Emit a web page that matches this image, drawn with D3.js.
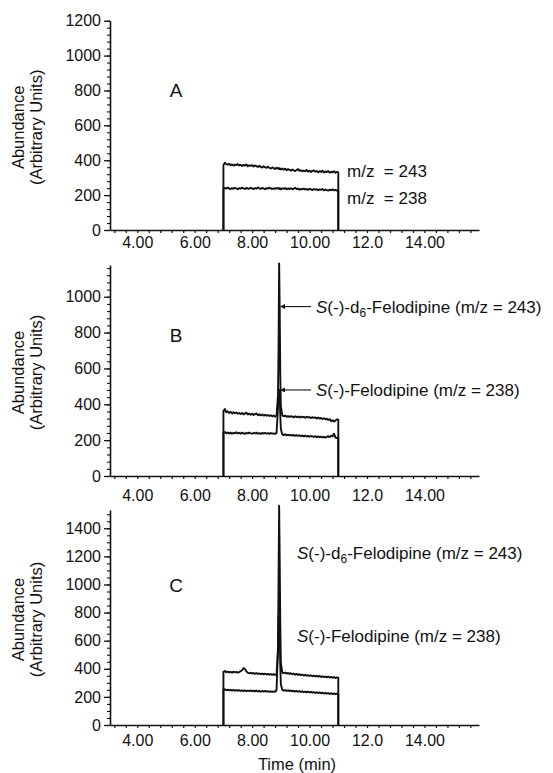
<!DOCTYPE html>
<html>
<head>
<meta charset="utf-8">
<script src="https://cdn.jsdelivr.net/npm/d3@7"></script>
<style>
  html, body { margin: 0; padding: 0; background: #fff; }
  svg { display: block; font-family: "Liberation Sans", Arial, Helvetica, sans-serif; }
  text { fill: #111; }
</style>
</head>
<body>
<svg id="chart" width="553" height="773"></svg>
<script>
// Scan times (min) shared by all selected-ion traces; the first and last entries
// mark the valve switching in/out where the signal steps from/to zero.
const times = [
  7.00, 7.00, 7.05, 7.10, 7.15, 7.20, 7.25, 7.30, 7.35, 7.40,
  7.45, 7.50, 7.55, 7.60, 7.65, 7.70, 7.75, 7.80, 7.85, 7.90,
  7.95, 8.00, 8.05, 8.10, 8.15, 8.20, 8.25, 8.30, 8.35, 8.40,
  8.45, 8.50, 8.55, 8.60, 8.65, 8.70, 8.75, 8.80, 8.85, 8.90,
  8.92, 8.94, 8.96, 8.98,
  9.00,
  9.05, 9.10, 9.15, 9.20, 9.25,
  9.30, 9.35, 9.40, 9.45, 9.50, 9.55, 9.60, 9.65, 9.70, 9.75,
  9.80, 9.85, 9.90, 9.95, 10.00, 10.05, 10.10, 10.15, 10.20, 10.25,
  10.30, 10.35, 10.40, 10.45, 10.50, 10.55, 10.60, 10.65, 10.70, 10.75,
  10.80, 10.85, 10.90, 10.95, 11.00, 11.00
];

// Panel A: blank plasma, m/z 243 and m/z 238
const blank243 = [
  0, 372, 386, 378, 374, 380, 371, 376, 369, 375,
  372, 378, 370, 374, 367, 373, 369, 376, 365, 371,
  368, 372, 364, 370, 366, 361, 368, 362, 358, 365,
  360, 356, 363, 357, 352, 359, 355, 350, 357, 352,
  355, 349, 354, 351,
  347,
  353, 346, 351, 343, 349,
  345, 340, 347, 342, 338, 344, 350, 339, 343, 336,
  341, 337, 344, 335, 340, 333, 339, 342, 334, 338,
  331, 337, 333, 340, 330, 336, 332, 338, 329, 334,
  331, 337, 328, 333, 330, 0
];
const blank238 = [
  0, 236, 241, 237, 243, 238, 235, 240, 236, 242,
  238, 234, 240, 237, 243, 239, 235, 241, 238, 236,
  242, 238, 235, 240, 237, 244, 239, 236, 241, 238,
  234, 240, 237, 243, 238, 235, 239, 236, 241, 237,
  239, 235, 240, 237,
  233,
  239, 236, 241, 234, 238,
  235, 240, 233, 237, 242, 234, 238, 231, 236, 233,
  238, 232, 235, 230, 236, 233, 229, 235, 231, 234,
  228, 233, 230, 235, 227, 232, 229, 226, 231, 228,
  233, 227, 230, 226, 229, 0
];

// Panel B
const sampleB243 = [
  0, 362, 374, 355, 361, 352, 358, 349, 356, 350,
  354, 347, 352, 346, 351, 344, 349, 353, 343, 348,
  342, 347, 340, 345, 349, 339, 344, 338, 343, 337,
  342, 336, 340, 335, 339, 333, 337, 331, 336, 450,
  720, 1185, 930, 560,
  390,
  338, 333, 337, 330, 335,
  329, 334, 331, 327, 333, 328, 332, 326, 331, 327,
  330, 325, 331, 326, 329, 323, 328, 324, 327, 321,
  326, 320, 324, 318, 322, 316, 320, 312, 317, 306,
  311, 304, 309, 316, 314, 0
];
const sampleB238 = [
  0, 240, 246, 238, 243, 237, 242, 236, 241, 238,
  244, 237, 241, 236, 242, 238, 235, 241, 237, 243,
  238, 236, 241, 237, 242, 236, 239, 235, 240, 237,
  241, 236, 239, 235, 240, 236, 238, 235, 240, 380,
  455, 482, 440, 340,
  262,
  232, 228, 233, 227, 231,
  226, 230, 225, 229, 224, 228, 223, 227, 222, 226,
  221, 225, 220, 224, 219, 223, 221, 218, 222, 217,
  221, 216, 220, 215, 219, 214, 218, 222, 217, 225,
  221, 236, 214, 212, 215, 0
];

// Panel C
const sampleC243 = [
  0, 378, 384, 375, 381, 374, 379, 372, 380, 375,
  378, 372, 377, 383, 390, 406, 398, 381, 371, 368,
  372, 366, 370, 364, 369, 363, 367, 361, 366, 360,
  365, 359, 364, 358, 363, 357, 362, 356, 360, 520,
  1050, 1560, 1180, 720,
  440,
  372, 368, 374, 366, 370,
  364, 369, 361, 366, 358, 364, 356, 362, 354, 359,
  352, 357, 350, 355, 349, 353, 347, 352, 345, 350,
  344, 349, 342, 347, 341, 345, 339, 344, 338, 342,
  336, 341, 334, 339, 336, 0
];
const sampleC238 = [
  0, 250, 255, 247, 252, 246, 251, 245, 250, 244,
  249, 243, 248, 242, 247, 241, 246, 240, 245, 241,
  246, 240, 244, 239, 245, 238, 243, 237, 242, 238,
  243, 237, 241, 236, 240, 235, 239, 236, 250, 560,
  780, 760, 640, 420,
  290,
  250, 244, 249, 242, 247,
  241, 246, 239, 244, 238, 243, 236, 241, 235, 240,
  233, 238, 232, 237, 231, 236, 230, 234, 228, 233,
  227, 232, 226, 230, 224, 229, 223, 227, 221, 226,
  220, 225, 219, 223, 220, 0
];

// Axis ticks and labels
const xTickValues = [4, 6, 8, 10, 12, 14];
const xTickLabels = ["4.00", "6.00", "8.00", "10.00", "12.0", "14.00"];
const yTicksA = [0, 200, 400, 600, 800, 1000, 1200];
const yTicksB = [0, 200, 400, 600, 800, 1000];
const yTicksC = [0, 200, 400, 600, 800, 1000, 1200, 1400];
const yMaxA = 1200, yMaxB = 1177, yMaxC = 1530;
const xDomain = [3.05, 15.9];
const panelLetters = ["A", "B", "C"];
const ionLabels = ["m/z  = 243", "m/z  = 238"];

const svg = d3.select("#chart");
const FONT = 16;

const x = d3.scaleLinear().domain(xDomain).range([110, 479]);

const panels = [
  { letter: panelLetters[0], yMax: yMaxA, ticks: yTicksA, minor: 40, top: 20.7, bottom: 230,
    series: [blank243, blank238], labelDy: 19, letterY: 90 },
  { letter: panelLetters[1], yMax: yMaxB, ticks: yTicksB, minor: 40, top: 265, bottom: 476,
    series: [sampleB243, sampleB238], labelDy: 26, letterY: 335 },
  { letter: panelLetters[2], yMax: yMaxC, ticks: yTicksC, minor: 50, top: 510, bottom: 725,
    series: [sampleC243, sampleC238], labelDy: 22, letterY: 585 }
];

panels.forEach((p, i) => {
  const y = d3.scaleLinear().domain([0, p.yMax]).range([p.bottom, p.top]);
  p.y = y;
  const g = svg.append("g");

  // minor y ticks
  const yMinor = d3.range(0, p.yMax + 0.1, p.minor);
  g.append("g")
    .attr("transform", "translate(110,0)")
    .call(d3.axisLeft(y).tickValues(yMinor).tickSize(3).tickFormat("").tickSizeOuter(0))
    .call(a => a.select(".domain").remove())
    .call(a => a.selectAll("line").attr("stroke", "#111").attr("stroke-width", 1.1));

  // major y ticks + labels + axis line
  g.append("g")
    .attr("transform", "translate(110,0)")
    .call(d3.axisLeft(y).tickValues(p.ticks).tickSize(6).tickPadding(3).tickSizeOuter(0)
      .tickFormat(d3.format("d")))
    .call(a => a.select(".domain").attr("stroke", "#111").attr("stroke-width", 1.6))
    .call(a => a.selectAll("line").attr("stroke", "#111").attr("stroke-width", 1.3))
    .call(a => a.selectAll("text").attr("font-size", FONT).attr("fill", "#111")
      .attr("font-family", null));

  // x axis: small ticks every 0.4 min, labels at even minutes
  const xMinor = d3.range(3.2, 15.7, 0.4);
  g.append("g")
    .attr("transform", `translate(0,${p.bottom})`)
    .call(d3.axisBottom(x).tickValues(xMinor).tickSize(3).tickFormat("").tickSizeOuter(0))
    .call(a => a.select(".domain").attr("stroke", "#111").attr("stroke-width", 1.6))
    .call(a => a.selectAll("line").attr("stroke", "#111").attr("stroke-width", 1.2));

  g.append("g")
    .attr("transform", `translate(0,${p.bottom})`)
    .call(d3.axisBottom(x).tickValues(xTickValues).tickSize(0).tickPadding(p.labelDy - 12)
      .tickFormat((d, k) => xTickLabels[k]))
    .call(a => a.select(".domain").remove())
    .call(a => a.selectAll("text").attr("font-size", FONT).attr("fill", "#111")
      .attr("font-family", null));

  // y-axis title
  const midY = (p.top + p.bottom) / 2 + 2;
  const yt = g.append("text")
    .attr("transform", `translate(0,${midY}) rotate(-90)`)
    .attr("text-anchor", "middle")
    .attr("font-size", 16.5);
  yt.append("tspan").attr("x", 0).attr("y", 24).text("Abundance");
  yt.append("tspan").attr("x", 0).attr("y", 42).text("(Arbitrary Units)");

  // panel letter
  g.append("text")
    .attr("x", 176).attr("y", p.letterY)
    .attr("text-anchor", "middle")
    .attr("dominant-baseline", "central")
    .attr("font-size", 19)
    .text(p.letter);

  // traces
  const line = d3.line().x((d, k) => x(times[k])).y(d => y(d));
  p.series.forEach(s => {
    g.append("path")
      .datum(s)
      .attr("d", line)
      .attr("fill", "none")
      .attr("stroke", "#111")
      .attr("stroke-width", 1.9)
      .attr("stroke-linejoin", "round");
  });
});

// Panel A ion labels
const pA = panels[0];
svg.append("text").attr("x", 347).attr("y", pA.y(338) + 6)
  .attr("font-size", 17).style("white-space", "pre").text(ionLabels[0]);
svg.append("text").attr("x", 347).attr("y", pA.y(182) + 6)
  .attr("font-size", 17).style("white-space", "pre").text(ionLabels[1]);

// compound labels with italic S and subscript 6
function compound(sel, deuterated, ion) {
  sel.append("tspan").attr("font-style", "italic").text("S");
  if (deuterated) {
    sel.append("tspan").text("(-)-d");
    sel.append("tspan").attr("font-size", 12).attr("dy", 4).text("6");
    sel.append("tspan").attr("dy", -4).text(`-Felodipine (m/z = ${ion})`);
  } else {
    sel.append("tspan").text(`(-)-Felodipine (m/z = ${ion})`);
  }
}

svg.append("defs").append("marker")
  .attr("id", "arrowhead")
  .attr("viewBox", "0 0 10 10")
  .attr("refX", 0).attr("refY", 5)
  .attr("markerWidth", 7).attr("markerHeight", 5)
  .attr("markerUnits", "userSpaceOnUse")
  .attr("orient", "auto-start-reverse")
  .append("path").attr("d", "M0,0 L10,5 L0,10 z").attr("fill", "#111");

const pB = panels[1];
const arrowYB = [pB.y(945), pB.y(480)];
arrowYB.forEach(yy => {
  svg.append("line")
    .attr("x1", 285).attr("x2", 311).attr("y1", yy).attr("y2", yy)
    .attr("stroke", "#111").attr("stroke-width", 1.1)
    .attr("marker-start", "url(#arrowhead)");
});
compound(svg.append("text").attr("x", 316).attr("y", arrowYB[0] + 6).attr("font-size", 17), true, 243);
compound(svg.append("text").attr("x", 316).attr("y", arrowYB[1] + 6).attr("font-size", 17), false, 238);

const pC = panels[2];
compound(svg.append("text").attr("x", 297).attr("y", pC.y(1225) + 6).attr("font-size", 17), true, 243);
compound(svg.append("text").attr("x", 297).attr("y", pC.y(630) + 6).attr("font-size", 17), false, 238);

// x-axis title
svg.append("text")
  .attr("x", 297).attr("y", 770)
  .attr("text-anchor", "middle")
  .attr("font-size", 16.5)
  .text("Time (min)");
</script>
</body>
</html>
